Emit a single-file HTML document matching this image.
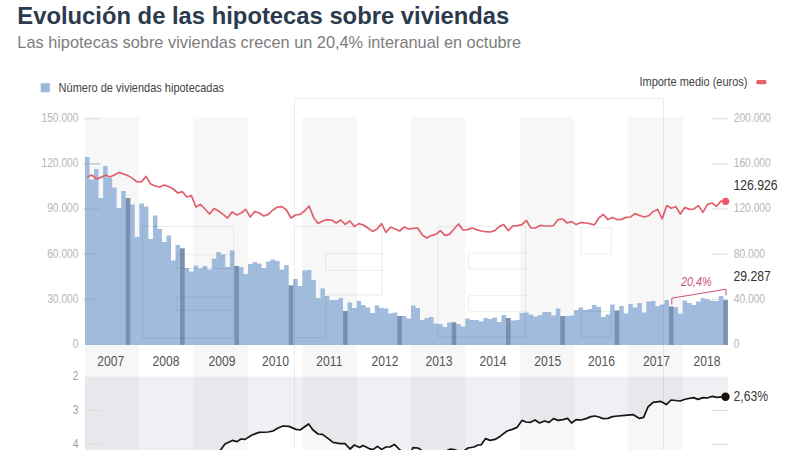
<!DOCTYPE html>
<html><head><meta charset="utf-8"><title>Evolución de las hipotecas sobre viviendas</title>
<style>html,body{margin:0;padding:0;background:#fff}body{width:800px;height:450px;overflow:hidden;position:relative;font-family:"Liberation Sans",sans-serif}svg{position:absolute;left:0;top:0;display:block}text{font-family:"Liberation Sans",sans-serif}</style></head><body>
<svg width="800" height="450" viewBox="0 0 800 450">
<rect width="800" height="450" fill="#fff"/>
<rect x="85.00" y="117" width="54.32" height="340" fill="#f7f7f7"/>
<rect x="193.65" y="117" width="54.32" height="340" fill="#f7f7f7"/>
<rect x="302.30" y="117" width="54.32" height="340" fill="#f7f7f7"/>
<rect x="410.94" y="117" width="54.32" height="340" fill="#f7f7f7"/>
<rect x="519.59" y="117" width="54.32" height="340" fill="#f7f7f7"/>
<rect x="628.24" y="117" width="54.32" height="340" fill="#f7f7f7"/>
<polygon points="85.0,376.4 727.8,376.4 727.8,396.7 725.6,396.7 717.0,397.4 712.4,396.4 707.0,398.0 703.0,397.6 698.0,399.4 693.6,397.6 686.0,399.0 680.0,401.0 671.0,400.0 666.4,404.6 661.0,401.4 653.0,402.4 648.0,407.0 643.6,417.4 639.4,418.4 633.0,414.6 625.0,415.4 618.0,416.0 612.4,416.6 608.0,418.4 603.0,418.6 599.0,417.0 595.0,416.0 591.0,416.6 586.0,418.6 581.0,420.0 576.0,419.6 571.6,423.0 567.6,418.4 563.0,419.6 558.0,420.4 553.6,418.6 549.0,422.4 544.4,421.0 539.6,423.0 535.0,420.0 530.0,422.4 526.0,422.0 522.0,420.4 517.0,427.4 512.4,429.4 507.0,431.0 500.0,436.4 495.0,439.4 490.0,440.4 485.6,438.6 481.0,445.0 478.0,445.0 474.0,447.0 468.0,448.0 464.0,451.0 458.0,451.0 454.0,449.6 450.0,449.2 448.0,450.0 445.0,453.0 425.0,453.0 421.0,450.0 418.0,448.0 413.0,447.6 411.0,452.0 405.0,453.0 400.0,450.0 394.4,444.4 390.0,447.0 386.0,447.0 381.6,449.4 377.4,446.4 373.0,449.6 369.0,448.6 363.0,445.6 359.6,447.6 354.4,445.0 350.0,449.0 345.0,443.6 340.0,443.6 333.0,442.4 328.0,438.4 322.4,434.4 318.0,434.0 313.0,430.0 308.6,424.0 300.0,430.0 296.0,429.4 289.0,426.4 283.0,426.0 278.0,428.0 273.0,431.0 268.0,432.0 259.0,432.4 252.0,435.0 245.0,439.4 241.0,439.0 237.0,441.6 232.4,440.4 225.0,444.0 220.5,450.0 217.0,455.0 85.0,452" fill="#5a4a78" fill-opacity="0.09"/>
<g stroke="#dadada" stroke-width="1">
<line x1="84.0" y1="118.8" x2="100.0" y2="118.8"/>
<line x1="711.8" y1="118.8" x2="727.8" y2="118.8"/>
<line x1="84.0" y1="163.9" x2="100.0" y2="163.9"/>
<line x1="711.8" y1="163.9" x2="727.8" y2="163.9"/>
<line x1="84.0" y1="209.0" x2="100.0" y2="209.0"/>
<line x1="711.8" y1="209.0" x2="727.8" y2="209.0"/>
<line x1="84.0" y1="254.1" x2="100.0" y2="254.1"/>
<line x1="711.8" y1="254.1" x2="727.8" y2="254.1"/>
<line x1="84.0" y1="299.2" x2="100.0" y2="299.2"/>
<line x1="711.8" y1="299.2" x2="727.8" y2="299.2"/>
<line x1="85.0" y1="410.4" x2="101.0" y2="410.4"/>
<line x1="711.8" y1="410.4" x2="727.8" y2="410.4"/>
<line x1="85.0" y1="444.4" x2="101.0" y2="444.4"/>
<line x1="711.8" y1="444.4" x2="727.8" y2="444.4"/>
</g>
<path d="M85.00,344.9 L85.00,157.0 L89.53,157.0 L89.53,179.6 L94.05,179.6 L94.05,169.0 L98.58,169.0 L98.58,198.0 L103.11,198.0 L103.11,166.0 L107.64,166.0 L107.64,178.0 L112.16,178.0 L112.16,187.4 L116.69,187.4 L116.69,208.0 L121.22,208.0 L121.22,191.0 L125.74,191.0 L125.74,198.0 L130.27,198.0 L130.27,204.4 L134.80,204.4 L134.80,237.0 L139.32,237.0 L139.32,203.6 L143.85,203.6 L143.85,206.6 L148.38,206.6 L148.38,239.0 L152.91,239.0 L152.91,215.4 L157.43,215.4 L157.43,229.0 L161.96,229.0 L161.96,242.0 L166.49,242.0 L166.49,235.6 L171.01,235.6 L171.01,260.4 L175.54,260.4 L175.54,245.0 L180.07,245.0 L180.07,248.4 L184.59,248.4 L184.59,268.0 L189.12,268.0 L189.12,271.6 L193.65,271.6 L193.65,265.6 L198.18,265.6 L198.18,268.4 L202.70,268.4 L202.70,266.0 L207.23,266.0 L207.23,269.4 L211.76,269.4 L211.76,258.6 L216.28,258.6 L216.28,252.0 L220.81,252.0 L220.81,254.6 L225.34,254.6 L225.34,267.0 L229.86,267.0 L229.86,250.4 L234.39,250.4 L234.39,266.0 L238.92,266.0 L238.92,267.0 L243.44,267.0 L243.44,274.0 L247.97,274.0 L247.97,264.0 L252.50,264.0 L252.50,262.0 L257.03,262.0 L257.03,263.4 L261.55,263.4 L261.55,268.0 L266.08,268.0 L266.08,261.4 L270.61,261.4 L270.61,259.4 L275.13,259.4 L275.13,261.0 L279.66,261.0 L279.66,269.6 L284.19,269.6 L284.19,265.0 L288.72,265.0 L288.72,285.6 L293.24,285.6 L293.24,279.0 L297.77,279.0 L297.77,286.0 L302.30,286.0 L302.30,270.4 L306.82,270.4 L306.82,270.0 L311.35,270.0 L311.35,280.0 L315.88,280.0 L315.88,298.0 L320.40,298.0 L320.40,288.4 L324.93,288.4 L324.93,296.0 L329.46,296.0 L329.46,300.0 L333.99,300.0 L333.99,300.0 L338.51,300.0 L338.51,298.0 L343.04,298.0 L343.04,311.0 L347.57,311.0 L347.57,302.6 L352.09,302.6 L352.09,308.0 L356.62,308.0 L356.62,301.0 L361.15,301.0 L361.15,305.0 L365.67,305.0 L365.67,307.4 L370.20,307.4 L370.20,313.0 L374.73,313.0 L374.73,305.6 L379.25,305.6 L379.25,308.0 L383.78,308.0 L383.78,308.6 L388.31,308.6 L388.31,313.6 L392.84,313.6 L392.84,312.4 L397.36,312.4 L397.36,316.0 L401.89,316.0 L401.89,316.0 L406.42,316.0 L406.42,318.4 L410.94,318.4 L410.94,305.6 L415.47,305.6 L415.47,308.0 L420.00,308.0 L420.00,320.0 L424.53,320.0 L424.53,318.0 L429.05,318.0 L429.05,317.0 L433.58,317.0 L433.58,323.6 L438.11,323.6 L438.11,324.0 L442.63,324.0 L442.63,327.0 L447.16,327.0 L447.16,322.6 L451.69,322.6 L451.69,322.4 L456.21,322.4 L456.21,324.0 L460.74,324.0 L460.74,326.6 L465.27,326.6 L465.27,318.6 L469.80,318.6 L469.80,320.0 L474.32,320.0 L474.32,320.0 L478.85,320.0 L478.85,321.6 L483.38,321.6 L483.38,318.0 L487.90,318.0 L487.90,319.0 L492.43,319.0 L492.43,317.6 L496.96,317.6 L496.96,322.0 L501.48,322.0 L501.48,315.0 L506.01,315.0 L506.01,318.0 L510.54,318.0 L510.54,320.6 L515.07,320.6 L515.07,320.0 L519.59,320.0 L519.59,313.0 L524.12,313.0 L524.12,312.6 L528.65,312.6 L528.65,314.4 L533.17,314.4 L533.17,316.4 L537.70,316.4 L537.70,315.0 L542.23,315.0 L542.23,312.0 L546.75,312.0 L546.75,312.0 L551.28,312.0 L551.28,315.6 L555.81,315.6 L555.81,308.4 L560.34,308.4 L560.34,316.0 L564.86,316.0 L564.86,316.0 L569.39,316.0 L569.39,315.6 L573.92,315.6 L573.92,310.0 L578.44,310.0 L578.44,307.4 L582.97,307.4 L582.97,310.0 L587.50,310.0 L587.50,309.0 L592.02,309.0 L592.02,305.0 L596.55,305.0 L596.55,307.0 L601.08,307.0 L601.08,317.0 L605.61,317.0 L605.61,314.4 L610.13,314.4 L610.13,304.4 L614.66,304.4 L614.66,310.6 L619.19,310.6 L619.19,306.0 L623.71,306.0 L623.71,313.6 L628.24,313.6 L628.24,304.0 L632.77,304.0 L632.77,307.6 L637.29,307.6 L637.29,303.0 L641.82,303.0 L641.82,312.4 L646.35,312.4 L646.35,301.4 L650.88,301.4 L650.88,301.0 L655.40,301.0 L655.40,306.0 L659.93,306.0 L659.93,304.4 L664.46,304.4 L664.46,300.0 L668.98,300.0 L668.98,306.6 L673.51,306.6 L673.51,307.0 L678.04,307.0 L678.04,313.4 L682.56,313.4 L682.56,300.4 L687.09,300.4 L687.09,303.0 L691.62,303.0 L691.62,305.0 L696.14,305.0 L696.14,301.6 L700.67,301.6 L700.67,298.0 L705.20,298.0 L705.20,299.0 L709.73,299.0 L709.73,300.4 L714.25,300.4 L714.25,301.0 L718.78,301.0 L718.78,296.0 L723.31,296.0 L723.31,300.2 L727.83,300.2 L727.83,344.9 Z" fill="#a0bbdc"/>
<g fill="#7990b0">
<rect x="125.74" y="198.0" width="4.53" height="146.9"/>
<rect x="180.07" y="248.4" width="4.53" height="96.5"/>
<rect x="234.39" y="266.0" width="4.53" height="78.9"/>
<rect x="288.72" y="285.6" width="4.53" height="59.3"/>
<rect x="343.04" y="311.0" width="4.53" height="33.9"/>
<rect x="397.36" y="316.0" width="4.53" height="28.9"/>
<rect x="451.69" y="322.4" width="4.53" height="22.5"/>
<rect x="506.01" y="318.0" width="4.53" height="26.9"/>
<rect x="560.34" y="316.0" width="4.53" height="28.9"/>
<rect x="614.66" y="310.6" width="4.53" height="34.3"/>
<rect x="668.98" y="306.6" width="4.53" height="38.3"/>
<rect x="723.31" y="300.2" width="4.53" height="44.7"/>
</g>
<g stroke="#8fa6c4" stroke-width="1" opacity="0.6">
<line x1="84.0" y1="163.9" x2="100.0" y2="163.9"/>
<line x1="84.0" y1="209.0" x2="100.0" y2="209.0"/>
<line x1="84.0" y1="254.1" x2="100.0" y2="254.1"/>
<line x1="84.0" y1="299.2" x2="100.0" y2="299.2"/>
</g>
<polyline points="87.3,177.0 91.8,175.0 96.3,179.0 100.8,177.4 105.4,175.0 109.9,177.0 114.4,175.0 119.0,172.4 123.5,174.0 128.0,175.6 132.5,178.4 137.1,182.0 141.6,181.6 146.1,176.4 150.6,184.0 155.2,186.0 159.7,187.0 164.2,185.0 168.7,186.6 173.3,189.0 177.8,193.0 182.3,191.6 186.9,197.0 191.4,195.6 195.9,207.0 200.4,204.4 205.0,209.0 209.5,214.0 214.0,208.6 218.5,211.0 223.1,214.4 227.6,218.0 232.1,212.0 236.7,215.0 241.2,213.0 245.7,209.4 250.2,217.0 254.8,211.6 259.3,213.0 263.8,216.0 268.3,214.4 272.9,210.0 277.4,207.0 281.9,206.6 286.5,210.0 291.0,218.0 295.5,215.0 300.0,214.4 304.6,211.0 309.1,206.0 313.6,217.4 318.1,223.4 322.7,221.0 327.2,219.6 331.7,220.0 336.2,223.0 340.8,220.0 345.3,224.4 349.8,221.0 354.4,226.4 358.9,223.6 363.4,225.0 367.9,228.0 372.5,231.4 377.0,229.0 381.5,223.6 386.0,232.4 390.6,227.0 395.1,229.0 399.6,231.0 404.2,227.0 408.7,229.0 413.2,228.4 417.7,228.0 422.3,235.0 426.8,238.0 431.3,235.6 435.8,234.4 440.4,230.6 444.9,235.4 449.4,234.4 454.0,229.0 458.5,224.0 463.0,230.0 467.5,229.6 472.1,228.0 476.6,229.6 481.1,231.0 485.6,231.6 490.2,232.0 494.7,230.6 499.2,226.6 503.7,224.4 508.3,230.6 512.8,226.0 517.3,225.6 521.9,224.6 526.4,220.5 530.9,228.0 535.4,228.0 540.0,225.4 544.5,226.0 549.0,226.0 553.5,225.6 558.1,219.6 562.6,219.0 567.1,223.0 571.7,221.6 576.2,224.6 580.7,222.4 585.2,223.0 589.8,223.6 594.3,225.0 598.8,218.0 603.3,214.4 607.9,219.6 612.4,217.4 616.9,219.6 621.4,219.4 626.0,217.4 630.5,217.0 635.0,213.6 639.6,215.5 644.1,217.0 648.6,215.8 653.1,211.6 657.7,209.5 662.2,218.8 666.7,205.6 671.2,208.2 675.8,206.5 680.3,214.0 684.8,207.4 689.4,209.4 693.9,209.0 698.4,205.6 702.9,212.4 707.5,204.4 712.0,203.0 716.5,206.4 721.0,201.0 725.6,201.3" fill="none" stroke="#e0606c" stroke-width="1.7" stroke-linejoin="round"/>
<circle cx="725.6" cy="201.4" r="3.6" fill="#ee5a6b"/>
<polyline points="217.0,455.0 220.5,450.0 225.0,444.0 232.4,440.4 237.0,441.6 241.0,439.0 245.0,439.4 252.0,435.0 259.0,432.4 268.0,432.0 273.0,431.0 278.0,428.0 283.0,426.0 289.0,426.4 296.0,429.4 300.0,430.0 308.6,424.0 313.0,430.0 318.0,434.0 322.4,434.4 328.0,438.4 333.0,442.4 340.0,443.6 345.0,443.6 350.0,449.0 354.4,445.0 359.6,447.6 363.0,445.6 369.0,448.6 373.0,449.6 377.4,446.4 381.6,449.4 386.0,447.0 390.0,447.0 394.4,444.4 400.0,450.0 405.0,453.0 411.0,452.0 413.0,447.6 418.0,448.0 421.0,450.0 425.0,453.0 445.0,453.0 448.0,450.0 450.0,449.2 454.0,449.6 458.0,451.0 464.0,451.0 468.0,448.0 474.0,447.0 478.0,445.0 481.0,445.0 485.6,438.6 490.0,440.4 495.0,439.4 500.0,436.4 507.0,431.0 512.4,429.4 517.0,427.4 522.0,420.4 526.0,422.0 530.0,422.4 535.0,420.0 539.6,423.0 544.4,421.0 549.0,422.4 553.6,418.6 558.0,420.4 563.0,419.6 567.6,418.4 571.6,423.0 576.0,419.6 581.0,420.0 586.0,418.6 591.0,416.6 595.0,416.0 599.0,417.0 603.0,418.6 608.0,418.4 612.4,416.6 618.0,416.0 625.0,415.4 633.0,414.6 639.4,418.4 643.6,417.4 648.0,407.0 653.0,402.4 661.0,401.4 666.4,404.6 671.0,400.0 680.0,401.0 686.0,399.0 693.6,397.6 698.0,399.4 703.0,397.6 707.0,398.0 712.4,396.4 717.0,397.4 725.6,396.7" fill="none" stroke="#1a1212" stroke-width="1.7" stroke-linejoin="round"/>
<circle cx="725.5" cy="396.8" r="4.2" fill="#1a1010"/>
<polyline points="671.8,304.5 671.8,298.2 726,289.2 726,295.6" fill="none" stroke="#c9507c" stroke-width="1"/>
<g fill="none" stroke="#000" stroke-opacity="0.07" stroke-width="1">
<path d="M294.5,460 V98.5 H663.5 V460"/>
<path d="M142.5,226.5 H233.75 V338.5 H142.5 Z"/>
<path d="M233.75,254.75 H176.25 V268.5 H233.75 M233.75,297.25 H176.25 V310.25 H233.75"/>
<path d="M294.5,226.5 H382.2 V295 H326 V337.5 H294.5"/>
<path d="M382.2,253.5 H325.5 V270.4 H382.2"/>
<path d="M438,226.5 H525.5 V337 H438 Z"/>
<path d="M525.5,253 H468.7 V269 H525.5 M525.5,295.7 H468.7 V311.7 H525.5"/>
<rect x="581.2" y="227.7" width="30.1" height="26.1"/>
<rect x="581.2" y="311.5" width="30.1" height="25.7"/>
</g>
<text transform="translate(17.3,23.5) scale(1,1)" font-size="23.8" fill="#2b3a4d" text-anchor="start" font-weight="bold">Evolución de las hipotecas sobre viviendas</text>
<text transform="translate(17.3,47.5) scale(1,1)" font-size="16.33" fill="#7d7d7d" text-anchor="start" >Las hipotecas sobre viviendas crecen un 20,4% interanual en octubre</text>
<rect x="40.7" y="83.2" width="9.2" height="9" fill="#9cb8da"/>
<text transform="translate(58.6,92) scale(0.82,1)" font-size="13.4" fill="#444" text-anchor="start" >Número de viviendas hipotecadas</text>
<text transform="translate(747.5,86) scale(0.82,1)" font-size="13.4" fill="#444" text-anchor="end" >Importe medio (euros)</text>
<rect x="756.3" y="80" width="10" height="4.2" rx="1" fill="#e8606e"/>
<text transform="translate(78.5,122.0) scale(0.82,1)" font-size="12.5" fill="#b6b6b6" text-anchor="end" >150.000</text>
<text transform="translate(78.5,167.2) scale(0.82,1)" font-size="12.5" fill="#b6b6b6" text-anchor="end" >120.000</text>
<text transform="translate(78.5,212.4) scale(0.82,1)" font-size="12.5" fill="#b6b6b6" text-anchor="end" >90.000</text>
<text transform="translate(78.5,257.6) scale(0.82,1)" font-size="12.5" fill="#b6b6b6" text-anchor="end" >60.000</text>
<text transform="translate(78.5,302.8) scale(0.82,1)" font-size="12.5" fill="#b6b6b6" text-anchor="end" >30.000</text>
<text transform="translate(78.5,348.0) scale(0.82,1)" font-size="12.5" fill="#b6b6b6" text-anchor="end" >0</text>
<text transform="translate(733.7,122.0) scale(0.82,1)" font-size="12.5" fill="#b6b6b6" text-anchor="start" >200.000</text>
<text transform="translate(733.7,167.2) scale(0.82,1)" font-size="12.5" fill="#b6b6b6" text-anchor="start" >160.000</text>
<text transform="translate(733.7,212.4) scale(0.82,1)" font-size="12.5" fill="#b6b6b6" text-anchor="start" >120.000</text>
<text transform="translate(733.7,257.6) scale(0.82,1)" font-size="12.5" fill="#b6b6b6" text-anchor="start" >80.000</text>
<text transform="translate(733.7,302.8) scale(0.82,1)" font-size="12.5" fill="#b6b6b6" text-anchor="start" >40.000</text>
<text transform="translate(733.7,348.0) scale(0.82,1)" font-size="12.5" fill="#b6b6b6" text-anchor="start" >0</text>
<text transform="translate(78.5,380) scale(0.82,1)" font-size="12.5" fill="#a0a0a0" text-anchor="end" >2</text>
<text transform="translate(78.5,414) scale(0.82,1)" font-size="12.5" fill="#a0a0a0" text-anchor="end" >3</text>
<text transform="translate(78.5,448) scale(0.82,1)" font-size="12.5" fill="#a0a0a0" text-anchor="end" >4</text>
<text transform="translate(110.8,366.4) scale(0.82,1)" font-size="14.8" fill="#555" text-anchor="middle" >2007</text>
<text transform="translate(165.9,366.4) scale(0.82,1)" font-size="14.8" fill="#555" text-anchor="middle" >2008</text>
<text transform="translate(222.0,366.4) scale(0.82,1)" font-size="14.8" fill="#555" text-anchor="middle" >2009</text>
<text transform="translate(275.6,366.4) scale(0.82,1)" font-size="14.8" fill="#555" text-anchor="middle" >2010</text>
<text transform="translate(329.4,366.4) scale(0.82,1)" font-size="14.8" fill="#555" text-anchor="middle" >2011</text>
<text transform="translate(385.0,366.4) scale(0.82,1)" font-size="14.8" fill="#555" text-anchor="middle" >2012</text>
<text transform="translate(439.0,366.4) scale(0.82,1)" font-size="14.8" fill="#555" text-anchor="middle" >2013</text>
<text transform="translate(493.1,366.4) scale(0.82,1)" font-size="14.8" fill="#555" text-anchor="middle" >2014</text>
<text transform="translate(547.8,366.4) scale(0.82,1)" font-size="14.8" fill="#555" text-anchor="middle" >2015</text>
<text transform="translate(601.6,366.4) scale(0.82,1)" font-size="14.8" fill="#555" text-anchor="middle" >2016</text>
<text transform="translate(656.6,366.4) scale(0.82,1)" font-size="14.8" fill="#555" text-anchor="middle" >2017</text>
<text transform="translate(707.0,366.4) scale(0.82,1)" font-size="14.8" fill="#555" text-anchor="middle" >2018</text>
<text transform="translate(733.5,190) scale(0.82,1)" font-size="14.9" fill="#333" text-anchor="start" >126.926</text>
<text transform="translate(733.5,280.7) scale(0.82,1)" font-size="14.9" fill="#333" text-anchor="start" >29.287</text>
<text transform="translate(733.5,400.5) scale(0.82,1)" font-size="14.9" fill="#3a3a3a" text-anchor="start" >2,63%</text>
<text transform="translate(696.3,285.6) scale(0.82,1)" font-size="13.2" fill="#c9507c" text-anchor="middle" font-style="italic">20,4%</text>
</svg></body></html>
